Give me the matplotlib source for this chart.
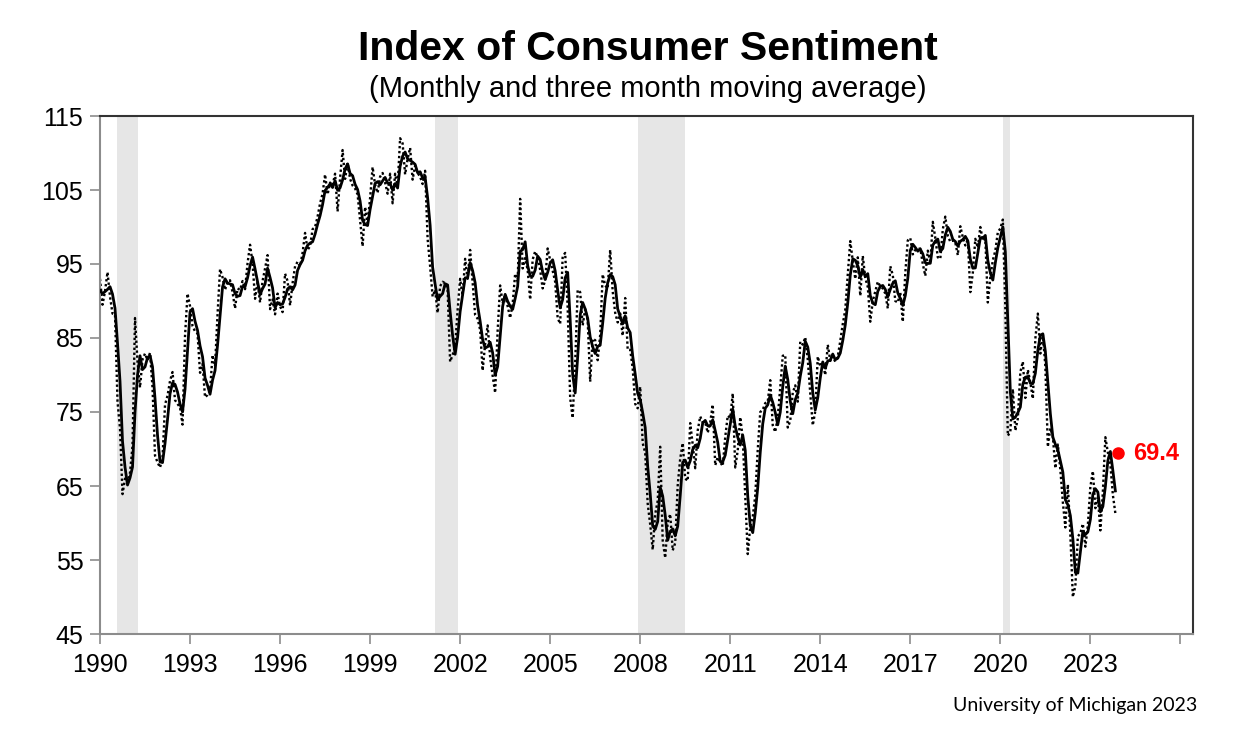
import numpy as np
import pandas as pd
import matplotlib
matplotlib.use("Agg")
import matplotlib.pyplot as plt

# Index of Consumer Sentiment, monthly values (University of Michigan)
lead_1989 = [90.8, 90.5]  # Nov, Dec 1989 (only used for the moving average)
monthly = [
    93.0, 89.5, 91.3, 93.9, 90.6, 88.3, 88.2, 76.4, 72.8, 63.9, 66.0, 65.5,  # 1990
    66.8, 70.4, 87.7, 81.8, 78.3, 82.1, 82.9, 82.0, 83.0, 78.3, 69.1, 68.2,  # 1991
    67.5, 68.8, 76.0, 77.2, 79.2, 80.4, 76.6, 76.1, 75.6, 73.3, 85.3, 91.0,  # 1992
    89.3, 86.6, 85.9, 85.6, 80.3, 81.5, 77.0, 77.3, 77.9, 82.7, 81.2, 88.2,  # 1993
    94.3, 93.2, 91.5, 92.6, 92.8, 91.2, 89.0, 91.7, 91.5, 92.7, 91.6, 95.1,  # 1994
    97.6, 95.1, 90.3, 92.5, 89.8, 92.7, 94.4, 96.2, 88.9, 90.2, 88.2, 91.0,  # 1995
    89.3, 88.5, 93.7, 92.7, 89.4, 92.4, 94.7, 95.3, 94.7, 96.5, 99.2, 96.9,  # 1996
    97.4, 99.7, 100.0, 101.4, 103.2, 104.5, 107.1, 104.4, 106.0, 105.6, 107.2, 102.1,  # 1997
    106.6, 110.4, 106.5, 108.7, 106.5, 105.6, 105.2, 104.4, 100.9, 97.4, 102.7, 100.5,  # 1998
    103.9, 108.1, 105.7, 104.6, 106.8, 107.3, 106.0, 104.5, 107.2, 103.2, 107.2, 105.4,  # 1999
    112.0, 111.3, 107.1, 109.2, 110.7, 106.4, 108.3, 107.3, 106.8, 105.8, 107.6, 98.4,  # 2000
    94.7, 90.6, 91.5, 88.4, 92.0, 92.6, 92.4, 91.5, 81.8, 82.7, 83.9, 88.8,  # 2001
    93.0, 90.7, 95.7, 93.0, 96.9, 92.4, 88.1, 87.6, 86.1, 80.6, 84.2, 86.7,  # 2002
    82.4, 79.9, 77.6, 86.0, 92.1, 89.7, 90.9, 89.3, 87.7, 89.6, 93.7, 92.6,  # 2003
    103.8, 94.4, 95.8, 94.2, 90.2, 95.6, 96.7, 95.9, 94.2, 91.7, 92.8, 97.1,  # 2004
    95.5, 94.1, 92.6, 87.7, 86.9, 96.0, 96.5, 89.1, 76.9, 74.2, 81.6, 91.5,  # 2005
    91.2, 86.7, 88.9, 87.4, 79.1, 84.9, 84.7, 82.0, 85.4, 93.6, 92.1, 91.7,  # 2006
    96.9, 91.3, 88.4, 87.1, 88.3, 85.3, 90.4, 83.4, 83.4, 80.9, 76.1, 75.5,  # 2007
    78.4, 70.8, 69.5, 62.6, 59.8, 56.4, 61.2, 63.0, 70.3, 57.6, 55.3, 60.1,  # 2008
    61.2, 56.3, 57.3, 65.1, 68.7, 70.8, 66.0, 65.7, 73.5, 70.6, 67.4, 72.5,  # 2009
    74.4, 73.6, 73.6, 72.2, 73.6, 76.0, 67.8, 68.9, 68.2, 67.7, 71.6, 74.5,  # 2010
    74.2, 77.5, 67.5, 69.8, 74.3, 71.5, 63.7, 55.8, 59.5, 60.8, 63.7, 69.9,  # 2011
    75.0, 75.3, 76.2, 76.4, 79.3, 73.2, 72.3, 74.3, 78.3, 82.6, 82.7, 72.9,  # 2012
    73.8, 77.6, 78.6, 76.4, 84.5, 84.1, 85.1, 82.1, 77.5, 73.2, 75.1, 82.5,  # 2013
    81.2, 81.6, 80.0, 84.1, 81.9, 82.5, 81.8, 82.5, 84.6, 86.9, 88.8, 93.6,  # 2014
    98.1, 95.4, 93.0, 95.9, 90.7, 96.1, 93.1, 91.9, 87.2, 90.0, 91.3, 92.6,  # 2015
    92.0, 91.7, 91.0, 89.0, 94.7, 93.5, 90.0, 89.8, 91.2, 87.2, 93.8, 98.2,  # 2016
    98.5, 96.3, 96.9, 97.0, 97.1, 95.0, 93.4, 96.8, 95.1, 100.7, 98.5, 95.9,  # 2017
    95.7, 99.7, 101.4, 98.8, 98.0, 98.2, 97.9, 96.2, 100.1, 98.6, 97.5, 98.3,  # 2018
    91.2, 93.8, 98.4, 97.2, 100.0, 98.2, 98.4, 89.8, 93.2, 95.5, 96.8, 99.3,  # 2019
    99.8, 101.0, 89.1, 71.8, 72.3, 78.1, 72.5, 74.1, 80.4, 81.8, 76.9, 80.7,  # 2020
    79.0, 76.8, 84.9, 88.3, 82.9, 85.5, 81.2, 70.3, 72.8, 71.7, 67.4, 70.6,  # 2021
    67.2, 62.8, 59.4, 65.2, 58.4, 50.0, 51.5, 58.2, 58.6, 59.9, 56.8, 59.7,  # 2022
    64.9, 67.0, 62.0, 63.5, 59.0, 64.2, 71.6, 69.5, 67.9, 63.8, 61.3,  # 2023 (Jan-Nov)
]
start_year = 1990
latest_value = 69.4        # December 2023 preliminary
latest_date = 2023 + 11 / 12

# NBER recessions (start, end) as fractional years
recessions = [(1990.58, 1991.25), (2001.17, 2001.92), (2007.92, 2009.5), (2020.08, 2020.33)]

year_ticks = list(range(1990, 2027, 3))
year_labels = [str(y) for y in year_ticks[:-1]] + [""]
y_ticks = list(range(45, 116, 10))

# dates and 3 month moving average
dates = start_year + np.arange(len(monthly)) / 12
full = pd.Series(lead_1989 + monthly)
ma3 = full.rolling(3).mean().to_numpy()[len(lead_1989):]

plt.rcParams["font.family"] = ["Liberation Sans", "DejaVu Sans"]

fig = plt.figure(figsize=(12.41, 7.47), dpi=100)
ax = fig.add_axes([100 / 1241, 113 / 747, 1093 / 1241, 518 / 747])

for s, e in recessions:
    ax.axvspan(s, e, color="#e6e6e6", lw=0, zorder=0)

ax.plot(dates, monthly, color="black", lw=1.7, linestyle=(0, (1, 1.1)), zorder=2)
ax.plot(dates, ma3, color="black", lw=2.0, zorder=3)
ax.plot([latest_date], [latest_value], "o", color="#ff0000", ms=8, zorder=4)
ax.annotate(f"{latest_value}", (latest_date, latest_value), xytext=(11, 0),
            textcoords="offset points", color="#ff0000", fontsize=17,
            fontweight="bold", va="center", ha="left")

ax.set_xlim(1990, 2026.42)
ax.set_ylim(45, 115)
ax.set_xticks(year_ticks)
ax.set_xticklabels(year_labels)
ax.set_yticks(y_ticks)
ax.tick_params(axis="both", labelsize=18, length=7, width=1.2, color="#8c8c8c",
               direction="out")
ax.tick_params(axis="x", pad=7)
ax.tick_params(axis="y", pad=5)

for side in ["left", "bottom"]:
    ax.spines[side].set_color("#8c8c8c")
    ax.spines[side].set_linewidth(1.5)
for side in ["top", "right"]:
    ax.spines[side].set_color("#333333")
    ax.spines[side].set_linewidth(1.5)

fig.text(648 / 1241, 1 - 49 / 747, "Index of Consumer Sentiment",
         fontsize=29.5, fontweight="bold", ha="center", va="center")
fig.text(648 / 1241, 1 - 89 / 747, "(Monthly and three month moving average)",
         fontsize=21, ha="center", va="center")
fig.text(1197 / 1241, 1 - 706 / 747, "University of Michigan 2023", family="Lato",
         fontsize=14, ha="right", va="center")

fig.savefig("out.png", dpi=100)
